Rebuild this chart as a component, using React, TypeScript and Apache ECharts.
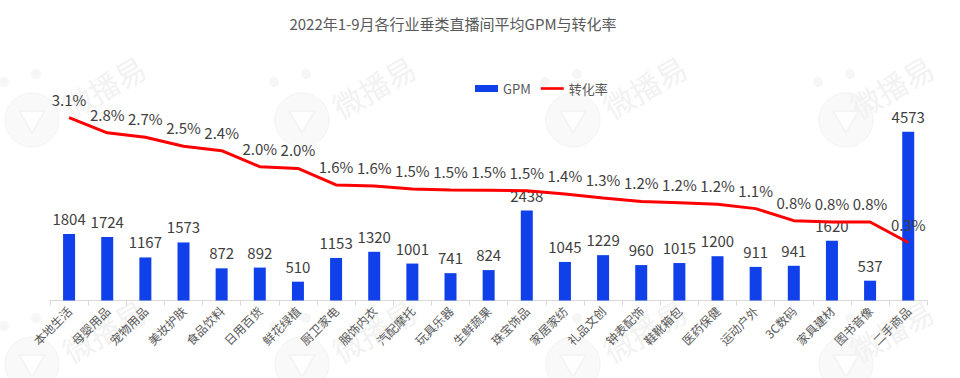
import React, { useEffect, useRef } from "react";
import * as echarts from "echarts";

const categories = [
  "本地生活", "母婴用品", "宠物用品", "美妆护肤", "食品饮料", "日用百货", "鲜花绿植", "厨卫家电",
  "服饰内衣", "汽配摩托", "玩具乐器", "生鲜蔬果", "珠宝饰品", "家居家纺", "礼品文创", "钟表配饰",
  "鞋靴箱包", "医药保健", "运动户外", "3C数码", "家具建材", "图书音像", "二手商品",
];
const gpm = [1804, 1724, 1167, 1573, 872, 892, 510, 1153, 1320, 1001, 741, 824, 2438, 1045, 1229, 960, 1015, 1200, 911, 941, 1620, 537, 4573];
const conversion = [3.1, 2.76, 2.66, 2.46, 2.36, 2.0, 1.96, 1.59, 1.57, 1.5, 1.48, 1.47, 1.46, 1.39, 1.3, 1.22, 1.19, 1.16, 1.06, 0.79, 0.76, 0.76, 0.3];

const watermarkCols = [32, 302, 573, 846];
const watermarkRows = [120, 364];

const FONT = "'Microsoft YaHei', 'Noto Sans CJK SC', 'Noto Sans', sans-serif";

function watermark(cx: number, cy: number, textDx: number) {
  return {
    type: "group",
    z: -10,
    silent: true,
    children: [
      { type: "circle", shape: { cx, cy, r: 27 }, style: { fill: "#f9f9f9", stroke: "#f3f3f3", lineWidth: 1 }, z: -10 },
      {
        type: "polygon",
        shape: { points: [[cx - 13, cy - 9], [cx + 13, cy - 9], [cx, cy + 13]] },
        style: { fill: "#fefefe", stroke: "#f4f4f4", lineWidth: 2, lineJoin: "round" },
        z: -10,
      },
      { type: "circle", shape: { cx: cx - 28, cy: cy - 38, r: 5 }, style: { fill: "#f6f6f6" }, z: -10 },
      { type: "circle", shape: { cx: cx + 4, cy: cy - 46, r: 5 }, style: { fill: "#f6f6f6" }, z: -10 },
      {
        type: "text",
        x: cx + textDx,
        y: cy + 2,
        rotation: Math.PI / 6,
        style: {
          text: "微播易",
          fill: "#f2f2f2",
          font: `30px 'Noto Sans CJK SC', sans-serif`,
          textVerticalAlign: "bottom",
          textAlign: "left",
        },
        z: -10,
      },
    ],
  };
}

export default function App() {
  const ref = useRef<HTMLDivElement>(null);
  useEffect(() => {
    document.body.style.margin = "0";
    if (!ref.current) return;
    const chart = echarts.init(ref.current, null, { renderer: "svg" });
    const marks: any[] = [];
    watermarkRows.forEach((cy) =>
      watermarkCols.forEach((cx, i) => marks.push(watermark(cx, cy, i === watermarkCols.length - 1 ? 14 : 40)))
    );
    chart.setOption({
      animation: false,
      backgroundColor: "#ffffff",
      graphic: marks,
      title: {
        text: "2022年1-9月各行业垂类直播间平均GPM与转化率",
        left: 448,
        textAlign: "center",
        top: 11,
        textStyle: { fontFamily: FONT, fontSize: 15, fontWeight: "normal", color: "#595959" },
      },
      legend: {
        left: 470,
        top: 77,
        itemWidth: 23,
        itemHeight: 7,
        itemGap: 10,
        textStyle: { fontFamily: FONT, fontSize: 13, color: "#595959" },
        data: [
          { name: "GPM", icon: "rect" },
          { name: "转化率", icon: "path://M0,0 H26 V3 H0 Z" },
        ],
      },
      grid: { left: 50, right: 32.7, top: 116, bottom: 77.5 },
      xAxis: {
        type: "category",
        data: categories,
        axisLine: { lineStyle: { color: "#d9d9d9", width: 1 } },
        axisTick: { show: true, alignWithLabel: false, lineStyle: { color: "#d9d9d9" }, length: 5 },
        axisLabel: {
          rotate: 45,
          interval: 0,
          fontFamily: FONT,
          fontSize: 12,
          color: "#595959",
          margin: 8,
        },
      },
      yAxis: [
        { type: "value", min: 0, max: 5000, show: false, splitLine: { show: false } },
        { type: "value", min: -1, max: 3.137, show: false, splitLine: { show: false } },
      ],
      series: [
        {
          name: "GPM",
          type: "bar",
          data: gpm,
          barWidth: 12,
          itemStyle: { color: "#0F40EA" },
          label: {
            show: true,
            position: "top",
            distance: 8,
            fontFamily: FONT,
            fontSize: 15,
            color: "#404040",
          },
        },
        {
          name: "转化率",
          type: "line",
          yAxisIndex: 1,
          data: conversion,
          symbol: "circle",
          symbolSize: 0,
          showSymbol: true,
          lineStyle: { color: "#FF0000", width: 3 },
          itemStyle: { color: "#FF0000" },
          label: {
            show: true,
            position: "top",
            distance: 11,
            fontFamily: FONT,
            fontSize: 15,
            color: "#404040",
            formatter: (p: any) => Number(p.value).toFixed(1) + "%",
          },
        },
      ],
    });
    return () => chart.dispose();
  }, []);
  return <div ref={ref} style={{ width: 960, height: 378 }} />;
}
